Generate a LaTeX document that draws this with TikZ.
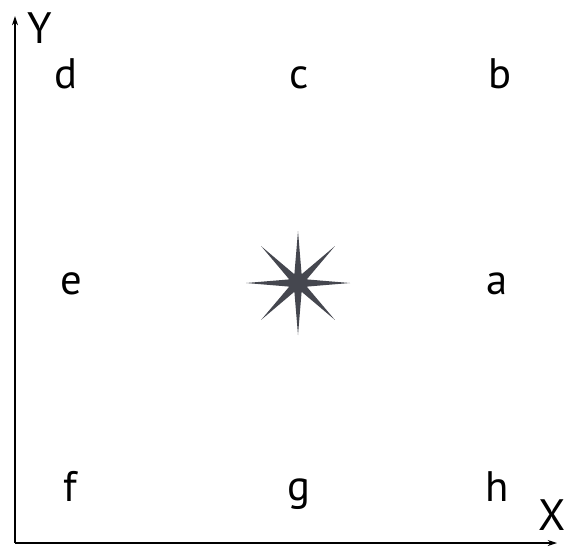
\documentclass[tikz,border=0pt]{standalone}
\usepackage{fontspec}
\setmainfont{PT Sans}
\usetikzlibrary{arrows.meta, shapes.geometric}
\definecolor{stargray}{HTML}{45474F}

\begin{document}
\begin{tikzpicture}[
    x=0.75pt, y=-0.75pt,
    poslabel/.style={
        inner sep=0pt, anchor=base,
        font=\fontsize{32}{32}\selectfont
    },
    axislabel/.style={
        inner sep=0pt, anchor=base,
        font=\fontsize{33}{33}\selectfont
    },
    axis/.style={-{Stealth[length=7pt, width=4.5pt]}, line width=0.9pt}
]
\useasboundingbox (0,0) rectangle (566,547);

% --- Origin and axis ends
\coordinate (origin) at (15,543);
\coordinate (yend) at (15,16);
\coordinate (xend) at (557,543);

% --- Axes
\draw[axis] (origin) -- (yend);
\draw[axis] (origin) -- (xend);
\node[axislabel] (ylabel) at (40,43) {Y};
\node[axislabel] (xlabel) at (552,530) {X};

% --- Position labels
\node[poslabel] (d) at (66,88) {d};
\node[poslabel] (c) at (299,88) {c};
\node[poslabel] (b) at (500,88) {b};
\node[poslabel] (e) at (71,294) {e};
\node[poslabel] (a) at (497,294) {a};
\node[poslabel] (f) at (70,501) {f};
\node[poslabel] (g) at (299,500) {g};
\node[poslabel] (h) at (497,501) {h};

% --- Centre star
\node[star, star points=8, star point ratio=5.5, fill=stargray,
      inner sep=0pt, minimum size=78pt] (centre) at (298,283) {};

\end{tikzpicture}
\end{document}
